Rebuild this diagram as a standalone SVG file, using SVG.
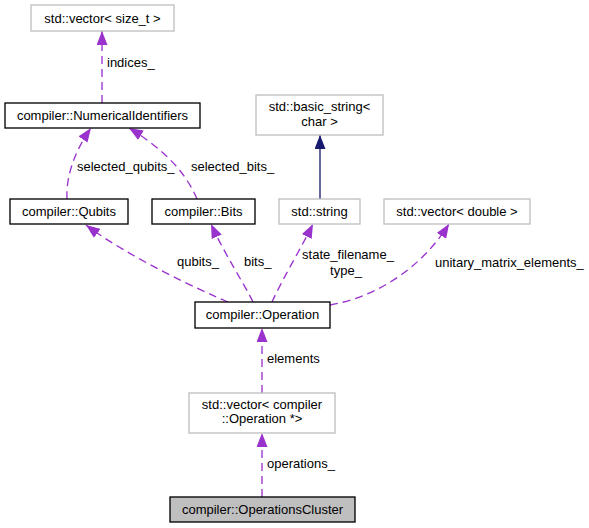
<svg xmlns="http://www.w3.org/2000/svg" width="589" height="528" viewBox="0 0 589 528">
<defs>
<style>
text{font-family:"Liberation Sans",Arial,Helvetica,sans-serif;font-size:13px;fill:#000}
.mid{text-anchor:middle}
.doc{fill:#fff;stroke:#000;stroke-width:1.33}
.ext{fill:#fff;stroke:#bfbfbf;stroke-width:1.33}
.cur{fill:#bfbfbf;stroke:#000;stroke-width:1.33}
.use{fill:none;stroke:#9a32cd;stroke-width:1.33;stroke-dasharray:8,5;marker-end:url(#ap)}
.inh{fill:none;stroke:#191970;stroke-width:1.33;marker-end:url(#an)}
</style>
<marker id="ap" markerUnits="userSpaceOnUse" viewBox="0 0 14 11" markerWidth="14" markerHeight="11" refX="14" refY="5.5" orient="auto">
<path d="M0,0 L14,5.5 L0,11 z" fill="#9a32cd"/>
</marker>
<marker id="an" markerUnits="userSpaceOnUse" viewBox="0 0 14 11" markerWidth="14" markerHeight="11" refX="14" refY="5.5" orient="auto">
<path d="M0,0 L14,5.5 L0,11 z" fill="#191970"/>
</marker>
</defs>
<rect width="589" height="528" fill="#fff"/>
<g id="edges">
<path class="use" d="M102,103 L102,31"/>
<text x="107" y="67">indices_</text>
<path class="use" d="M67,199 C66,180 72,155 91,128"/>
<text x="77" y="171">selected_qubits_</text>
<path class="use" d="M197,199 C186,173 165,150 129,128"/>
<text x="191" y="171">selected_bits_</text>
<path class="inh" d="M320,199 L320,135"/>
<path class="use" d="M228,302 C200,290 130,258 86,225"/>
<text x="177" y="266">qubits_</text>
<path class="use" d="M253,302 C245,285 225,255 211,224"/>
<text x="244" y="266">bits_</text>
<path class="use" d="M272,302 C282,280 300,250 313,224"/>
<text class="mid" x="348" y="259">state_filename_</text>
<text class="mid" x="346" y="275">type_</text>
<path class="use" d="M330,305 C375,297 420,270 449,224"/>
<text x="435" y="267">unitary_matrix_elements_</text>
<path class="use" d="M262,393 L262,328"/>
<text x="267" y="363">elements</text>
<path class="use" d="M262,497 L262,433"/>
<text x="267" y="468">operations_</text>
</g>
<g id="node_vector_size_t">
<rect class="ext" x="31" y="5" width="143" height="26"/>
<text class="mid" x="102.5" y="22.5">std::vector&lt; size_t &gt;</text>
</g>
<g id="node_NumericalIdentifiers">
<rect class="doc" x="5" y="103" width="195" height="25"/>
<text class="mid" x="102.5" y="120">compiler::NumericalIdentifiers</text>
</g>
<g id="node_Qubits">
<rect class="doc" x="10" y="199" width="118" height="25"/>
<text class="mid" x="69" y="216">compiler::Qubits</text>
</g>
<g id="node_Bits">
<rect class="doc" x="152" y="199" width="103" height="25"/>
<text class="mid" x="203.5" y="216">compiler::Bits</text>
</g>
<g id="node_basic_string">
<rect class="ext" x="256" y="95" width="127" height="40"/>
<text class="mid" x="319.5" y="111">std::basic_string&lt;</text>
<text class="mid" x="319.5" y="126">char &gt;</text>
</g>
<g id="node_string">
<rect class="ext" x="279" y="199" width="81" height="25"/>
<text class="mid" x="319.5" y="216">std::string</text>
</g>
<g id="node_vector_double">
<rect class="ext" x="384" y="199" width="146" height="25"/>
<text class="mid" x="457" y="216">std::vector&lt; double &gt;</text>
</g>
<g id="node_Operation">
<rect class="doc" x="195" y="302" width="135" height="26"/>
<text class="mid" x="262.5" y="319">compiler::Operation</text>
</g>
<g id="node_vector_Operation">
<rect class="ext" x="189" y="393" width="146" height="40"/>
<text class="mid" x="262" y="409">std::vector&lt; compiler</text>
<text class="mid" x="262" y="423">::Operation *&gt;</text>
</g>
<g id="node_OperationsCluster">
<rect class="cur" x="170" y="497" width="185" height="25"/>
<text class="mid" x="262.5" y="514">compiler::OperationsCluster</text>
</g>
</svg>
